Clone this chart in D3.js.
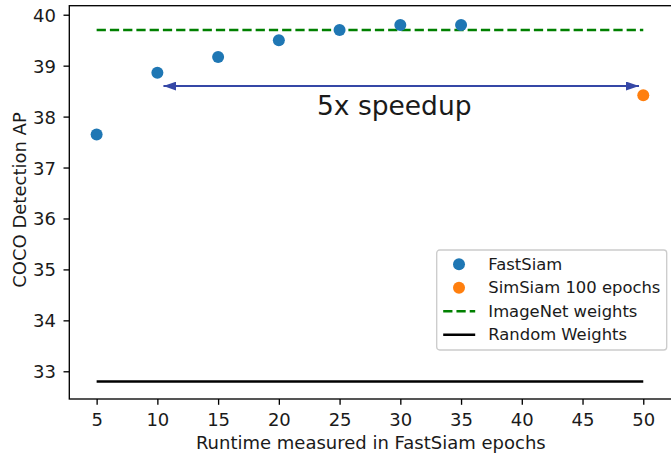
<!DOCTYPE html>
<html>
<head>
<meta charset="utf-8">
<script src="https://cdn.jsdelivr.net/npm/d3@7"></script>
<style>
  body { margin: 0; background: #fff; }
  svg { display: block; font-family: "DejaVu Sans", sans-serif; }
</style>
</head>
<body>
<svg id="chart" width="671" height="454"></svg>
<script>
// data
const fastEpochs = [5, 10, 15, 20, 25, 30, 35];
const fastAP = [37.65, 38.86, 39.17, 39.5, 39.7, 39.8, 39.8];
const simEpochs = [50];
const simAP = [38.42];
const imagenetAP = 39.7;
const randomAP = 32.8;
const lineSpan = [5, 50];
const arrowSpan = [10.5, 49.65];
const arrowY = 38.6;
const xTicks = [5, 10, 15, 20, 25, 30, 35, 40, 45, 50];
const yTicks = [33, 34, 35, 36, 37, 38, 39, 40];
const legendItems = ["FastSiam", "SimSiam 100 epochs", "ImageNet weights", "Random Weights"];

const svg = d3.select("#chart");
const pLeft = 69.3, pRight = 670.6, pTop = 5.7, pBottom = 399;

let x = d3.scaleLinear().domain([2.75, 52.25]).range([pLeft, pRight]);
let y = d3.scaleLinear().domain([32.456, 40.177]).range([pBottom, pTop]);

const blue = "#1f77b4", orange = "#ff7f0e", green = "#008000", arrowCol = "#3547a6";
const ink = "#1a1a1a";

// reference lines
svg.append("line")
    .attr("x1", x(lineSpan[0])).attr("x2", x(lineSpan[1]))
    .attr("y1", y(imagenetAP)).attr("y2", y(imagenetAP))
    .attr("stroke", green).attr("stroke-width", 2.5)
    .attr("stroke-dasharray", "9.25,4");
svg.append("line")
    .attr("x1", x(lineSpan[0])).attr("x2", x(lineSpan[1]))
    .attr("y1", y(randomAP)).attr("y2", y(randomAP))
    .attr("stroke", "#000").attr("stroke-width", 2.5);

// points
svg.selectAll(".fast").data(fastEpochs).enter().append("circle")
    .attr("cx", d => x(d)).attr("cy", (d, i) => y(fastAP[i]))
    .attr("r", 6).attr("fill", blue);
svg.selectAll(".sim").data(simEpochs).enter().append("circle")
    .attr("cx", d => x(d)).attr("cy", (d, i) => y(simAP[i]))
    .attr("r", 6).attr("fill", orange);

// double arrow
const defs = svg.append("defs");
defs.append("marker").attr("id", "head")
    .attr("viewBox", "0 0 13 9").attr("refX", 13).attr("refY", 4.5)
    .attr("markerWidth", 13).attr("markerHeight", 9)
    .attr("markerUnits", "userSpaceOnUse").attr("orient", "auto-start-reverse")
  .append("path").attr("d", "M0,0 L13,4.5 L0,9 Z").attr("fill", arrowCol);
svg.append("line")
    .attr("x1", x(arrowSpan[0])).attr("x2", x(arrowSpan[1]))
    .attr("y1", y(arrowY)).attr("y2", y(arrowY))
    .attr("stroke", arrowCol).attr("stroke-width", 2)
    .attr("marker-start", "url(#head)").attr("marker-end", "url(#head)");
svg.append("text")
    .attr("x", x(29.5)).attr("y", y(38.03))
    .attr("text-anchor", "middle").attr("font-size", 26.5).attr("fill", ink)
    .text("5x speedup");

// axes
let xAxis = d3.axisBottom(x).tickValues(xTicks).tickSize(5.8).tickPadding(8);
let yAxis = d3.axisLeft(y).tickValues(yTicks).tickSize(5.8).tickPadding(7.5);
const gx = svg.append("g").attr("transform", `translate(0,${pBottom})`).call(xAxis);
const gy = svg.append("g").attr("transform", `translate(${pLeft},0)`).call(yAxis);
[gx, gy].forEach(g => {
  g.select(".domain").remove();
  g.selectAll("line").attr("stroke", "#000").attr("stroke-width", 1.33);
  g.selectAll("text").attr("font-size", 18).attr("fill", ink)
    .attr("font-family", "DejaVu Sans");
});
gy.selectAll("text").attr("dy", "0.36em");

// frame
svg.append("rect").attr("x", pLeft).attr("y", pTop)
    .attr("width", pRight + 2 - pLeft).attr("height", pBottom - pTop)
    .attr("fill", "none").attr("stroke", "#000").attr("stroke-width", 1.33);

svg.append("text").attr("x", 370.8).attr("y", 449)
    .attr("text-anchor", "middle").attr("font-size", 18).attr("fill", ink)
    .text("Runtime measured in FastSiam epochs");
svg.append("text").attr("transform", "translate(26,200) rotate(-90)")
    .attr("text-anchor", "middle").attr("font-size", 18).attr("fill", ink)
    .text("COCO Detection AP");

// legend
const lg = svg.append("g").attr("transform", "translate(436.7,250)");
lg.append("rect").attr("width", 230).attr("height", 100).attr("rx", 3)
    .attr("fill", "#fff").attr("fill-opacity", 0.8)
    .attr("stroke", "#ccc").attr("stroke-width", 1.33);
legendItems.forEach((name, i) => {
  const cy = 14.3 + i * 23.5;
  if (i === 0 || i === 1) {
    lg.append("circle").attr("cx", 22.3).attr("cy", cy).attr("r", 6)
      .attr("fill", i === 0 ? blue : orange);
  } else {
    lg.append("line").attr("x1", 6.5).attr("x2", 38.5).attr("y1", cy).attr("y2", cy)
      .attr("stroke", i === 2 ? green : "#000").attr("stroke-width", 2.5)
      .attr("stroke-dasharray", i === 2 ? "9.25,4" : null);
  }
  lg.append("text").attr("x", 51.6).attr("y", cy + 5.5)
    .attr("font-size", 16.4).attr("fill", ink).text(name);
});
</script>
</body>
</html>
